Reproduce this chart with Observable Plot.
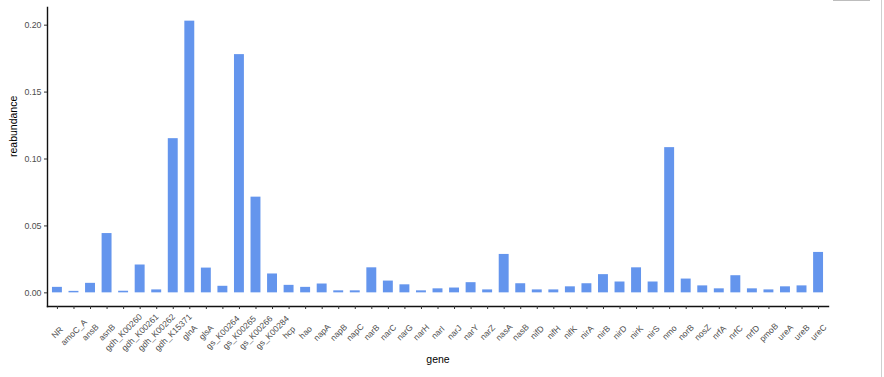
<!DOCTYPE html>
<html>
<head>
<meta charset="utf-8">
<script src="https://cdn.jsdelivr.net/npm/d3@7"></script>
<script src="https://cdn.jsdelivr.net/npm/@observablehq/plot@0.6"></script>
<style>
  html, body { margin: 0; padding: 0; background: #fff; }
  #chart { position: relative; width: 884px; height: 377px; }
  #edge { position: absolute; left: 881px; top: 0; width: 1px; height: 377px; background: #cfcfcf; }
  #edge2 { position: absolute; left: 833px; top: 0; width: 37px; height: 1px; background: #bdbdbd; }
</style>
</head>
<body>
<div id="chart"><div id="edge"></div><div id="edge2"></div></div>
<script>
const genes = ["NR","amoC_A","ansB","asnB","gdh_K00260","gdh_K00261","gdh_K00262","gdh_K15371","glnA","glsA","gs_K00264","gs_K00265","gs_K00266","gs_K00284","hcp","hao","napA","napB","napC","narB","narC","narG","narH","narI","narJ","narY","narZ","nasA","nasB","nifD","nifH","nifK","nirA","nirB","nirD","nirK","nirS","nmo","norB","nosZ","nrfA","nrfC","nrfD","pmoB","ureA","ureB","ureC"];
const reabundance = [0.0041,0.0011,0.0071,0.0443,0.0012,0.0208,0.0022,0.1152,0.2030,0.0185,0.0049,0.1780,0.0715,0.0141,0.0056,0.0041,0.0066,0.0015,0.0015,0.0187,0.0088,0.0060,0.0015,0.0030,0.0036,0.0076,0.0022,0.0287,0.0068,0.0022,0.0022,0.0045,0.0068,0.0136,0.0081,0.0187,0.0081,0.1085,0.0103,0.0052,0.0030,0.0128,0.0030,0.0022,0.0045,0.0052,0.0302];
const yTicks = [0, 0.05, 0.10, 0.15, 0.20];
const xTitle = "gene";
const yTitle = "reabundance";

const data = genes.map((g, i) => ({gene: g, value: reabundance[i]}));
const tickGray = "#4d4d4d";

const chart = Plot.plot({
  width: 884,
  height: 377,
  marginLeft: 47,
  marginRight: 56,
  marginTop: 7,
  marginBottom: 71,
  style: {fontFamily: "'Liberation Sans', Arial, sans-serif", background: "transparent"},
  x: {domain: genes, paddingInner: 0.4, paddingOuter: 0.3, round: false, axis: null},
  y: {domain: [-0.0102, 0.2132], axis: null},
  marks: [
    Plot.barY(data, {x: "gene", y1: 0, y2: "value", fill: "#6495ED"}),
    Plot.frame({anchor: "left", stroke: "#111", strokeWidth: 1.4}),
    Plot.frame({anchor: "bottom", stroke: "#111", strokeWidth: 1.4}),
    Plot.axisY(yTicks, {tickSize: 3, tickPadding: 3, tickFormat: d3.format(".2f"), label: null, fontSize: 8.8, color: tickGray, stroke: "#333"}),
    Plot.axisX({tickSize: 3, tickFormat: () => "", label: null, stroke: "#333"}),
    Plot.text(genes, {x: d => d, frameAnchor: "bottom", dy: 26, rotate: -45, textAnchor: "middle", lineAnchor: "middle", fontSize: 8.5, fill: tickGray}),
    Plot.text([xTitle], {frameAnchor: "bottom", dy: 56, fontSize: 10.5, fill: "#000"}),
    Plot.text([yTitle], {frameAnchor: "left", dx: -34, rotate: -90, fontSize: 10.5, fill: "#000"})
  ]
});
document.getElementById("chart").prepend(chart);
</script>
</body>
</html>
